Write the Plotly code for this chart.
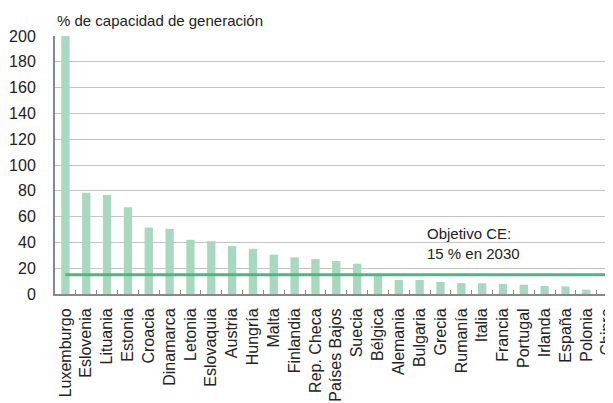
import plotly.graph_objects as go

countries = ["Luxemburgo", "Eslovenia", "Lituania", "Estonia", "Croacia", "Dinamarca",
             "Letonia", "Eslovaquia", "Austria", "Hungría", "Malta", "Finlandia",
             "Rep. Checa", "Países Bajos", "Suecia", "Bélgica", "Alemania", "Bulgaria",
             "Grecia", "Rumanía", "Italia", "Francia", "Portugal", "Irlanda", "España",
             "Polonia", "Chipre"]
capacity = [200, 78.5, 76.7, 67.2, 51.5, 50.5, 42, 41, 37.2, 35, 30.5, 28.4,
            27.1, 25.6, 23.5, 14, 10.9, 10.9, 9.3, 8.5, 8.3, 7.8, 7.2, 6.2, 5.9, 3.4, 0]
target = 15
y_ticks = [0, 20, 40, 60, 80, 100, 120, 140, 160, 180, 200]

FONT = "Liberation Sans, Arial, sans-serif"

fig = go.Figure()
fig.add_trace(go.Bar(x=countries, y=capacity, marker_color="#a9d8c1",
                     marker_line_width=0, showlegend=False))
fig.add_trace(go.Scatter(x=[countries[0], countries[-1]], y=[target, target],
                         mode="lines", line=dict(color="#4cb77e", width=3),
                         showlegend=False))

fig.update_layout(
    width=605, height=395,
    margin=dict(l=47, r=0, t=28, b=109),
    paper_bgcolor="white", plot_bgcolor="white",
    bargap=0.6,
    font=dict(family=FONT, color="#222"),
    xaxis=dict(type="category", range=[-0.5, 26.28], tickangle=-90,
               tickfont=dict(size=16, color="#222"), automargin=False,
               ticks="inside", tickson="boundaries", ticklen=4, tickcolor="#888",
               showline=True, linecolor="#888", linewidth=2,
               showgrid=False, ticklabelstandoff=6),
    yaxis=dict(range=[0, 200], tickvals=y_ticks, automargin=False,
               tickfont=dict(size=16, color="#222"),
               showline=True, linecolor="#888", linewidth=2,
               showgrid=True, gridcolor="#c4c4c4", gridwidth=1,
               zeroline=False, ticks="", ticklabelstandoff=14),
    annotations=[
        dict(text="% de capacidad de generación", xref="paper", yref="paper",
             x=0, y=1.062, xanchor="left", yanchor="middle", showarrow=False,
             font=dict(size=15, color="#222")),
        dict(text="Objetivo CE:<br>15 % en 2030", xref="x", yref="y",
             x=17.24, y=39.5, xanchor="left", yanchor="middle", align="left",
             showarrow=False, font=dict(size=15, color="#222")),
    ],
)

fig.write_html("out.html")
